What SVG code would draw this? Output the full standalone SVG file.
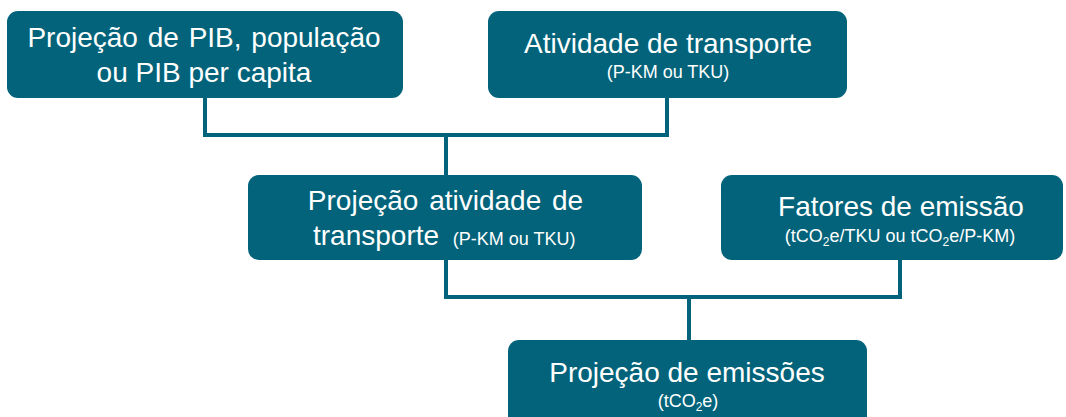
<svg xmlns="http://www.w3.org/2000/svg" width="1066" height="417" viewBox="0 0 1066 417">
<style>
.box{fill:#02637A;}
.t{font-family:"Liberation Sans",Arial,sans-serif;fill:#ffffff;font-size:28px;text-anchor:middle;}
.s{font-size:18px;}
.sub{font-size:12px;}
.conn{fill:none;stroke:#02637A;stroke-width:4;}
</style>
<rect width="1066" height="417" fill="#ffffff"/>
<g id="connectors">
<path class="conn" d="M205,96 V135 H667 V96"/>
<path class="conn" d="M446,135 V177"/>
<path class="conn" d="M446,258 V297 H900 V258"/>
<path class="conn" d="M689,297 V342"/>
</g>
<g id="node1">
<rect class="box" x="7" y="11" width="396" height="87" rx="11"/>
<text class="t" x="204" y="47" word-spacing="2">Projeção de PIB, população</text>
<text class="t" x="204" y="82">ou PIB per capita</text>
</g>
<g id="node2">
<rect class="box" x="488" y="11" width="359" height="87" rx="11"/>
<text class="t" x="668" y="53">Atividade de transporte</text>
<text class="t s" x="668" y="78">(P-KM ou TKU)</text>
</g>
<g id="node3">
<rect class="box" x="248" y="175" width="394" height="85" rx="11"/>
<text class="t" x="445.5" y="210" word-spacing="3">Projeção atividade de</text>
<text class="t" x="313" y="245" style="text-anchor:start">transporte <tspan class="s" dx="6">(P-KM ou TKU)</tspan></text>
</g>
<g id="node4">
<rect class="box" x="721" y="175" width="342" height="85" rx="11"/>
<text class="t" x="901" y="216">Fatores de emissão</text>
<text class="t s" x="900" y="242">(tCO<tspan class="sub" dy="4">2</tspan><tspan dy="-4">e/TKU ou tCO</tspan><tspan class="sub" dy="4">2</tspan><tspan dy="-4">e/P-KM)</tspan></text>
</g>
<g id="node5">
<rect class="box" x="508" y="340" width="359" height="95" rx="11"/>
<text class="t" x="687" y="382">Projeção de emissões</text>
<text class="t s" x="688" y="407">(tCO<tspan class="sub" dy="4">2</tspan><tspan dy="-4">e)</tspan></text>
</g>
</svg>
